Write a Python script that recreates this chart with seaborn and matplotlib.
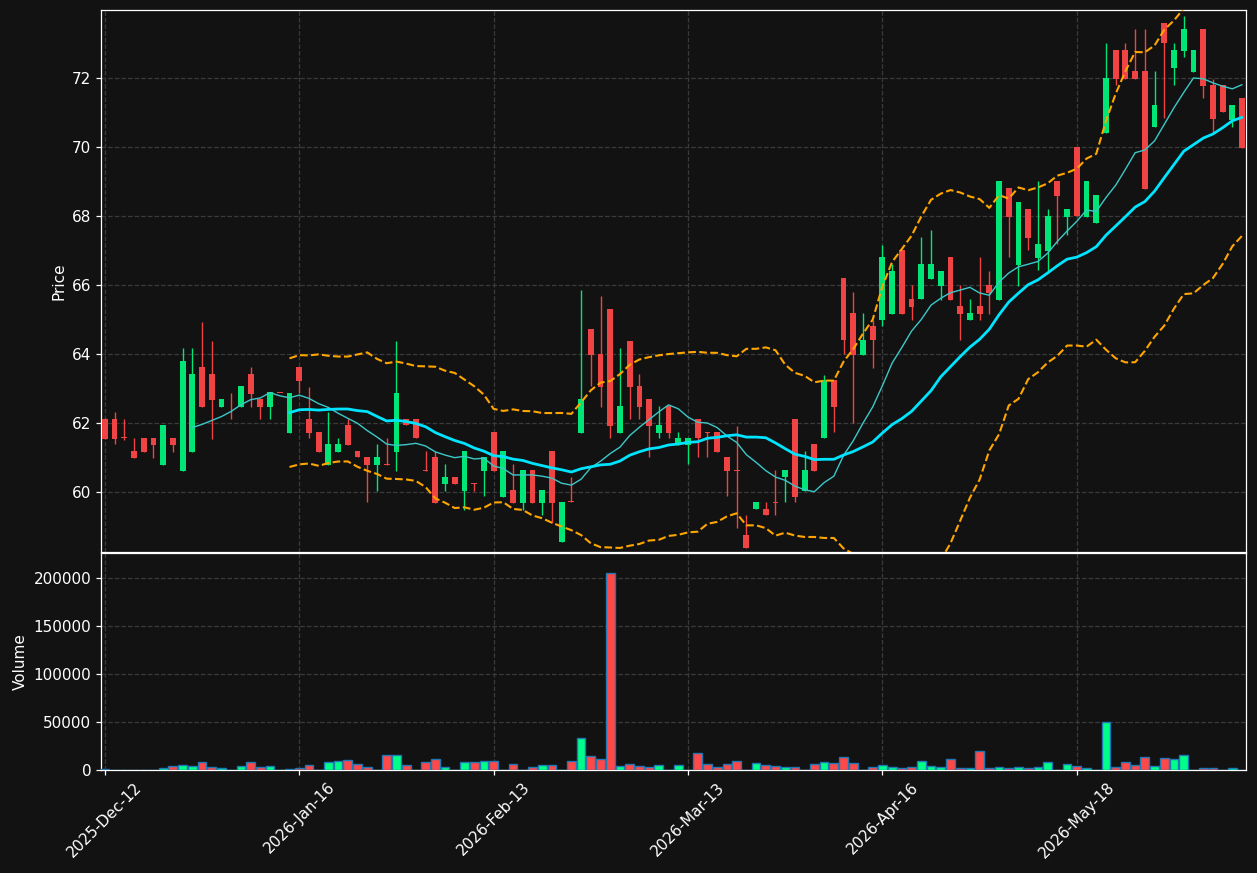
import matplotlib
matplotlib.use('Agg')
import matplotlib.pyplot as plt
import numpy as np
import pandas as pd
import seaborn as sns

# OHLC, one value per trading day
opens = [62.12, 62.12, 61.58, 61.19, 61.57, 61.57, 60.78, 61.57, 60.61, 61.16,
         63.62, 63.42, 62.46, 62.50, 62.46, 63.42, 62.70, 62.46, 62.88, 61.72,
         63.61, 62.11, 61.73, 60.79, 61.17, 61.94, 61.19, 61.01, 60.79, 60.81,
         61.17, 62.11, 62.11, 60.64, 61.01, 60.24, 60.44, 60.04, 60.25, 60.62,
         61.73, 59.86, 60.06, 59.69, 60.64, 59.69, 61.19, 58.56, 59.72, 61.72,
         64.72, 63.99, 65.30, 61.72, 64.38, 63.07, 62.70, 61.72, 62.49, 61.37,
         61.37, 62.11, 61.72, 61.73, 61.01, 60.63, 58.75, 59.50, 59.50, 59.71,
         60.42, 62.11, 60.04, 61.39, 61.55, 63.25, 66.20, 65.19, 63.98, 64.81,
         64.99, 65.17, 67.01, 65.59, 65.58, 66.18, 65.98, 66.81, 65.39, 64.99,
         65.39, 66.00, 65.57, 68.81, 66.58, 68.19, 66.79, 66.99, 69.01, 67.98,
         70.00, 67.98, 67.79, 70.40, 72.81, 72.81, 72.20, 72.20, 70.59, 73.59,
         72.30, 72.79, 72.18, 73.41, 71.80, 71.80, 70.78, 71.41]
highs = [62.15, 62.32, 62.12, 61.57, 61.57, 61.57, 61.94, 61.57, 64.17, 64.17,
         64.93, 64.38, 62.70, 62.87, 63.07, 63.62, 62.70, 62.90, 62.88, 62.86,
         63.61, 63.05, 61.73, 62.31, 61.55, 62.11, 61.19, 61.01, 61.39, 61.56,
         64.37, 62.11, 62.11, 61.18, 61.18, 60.80, 60.44, 61.19, 60.25, 61.00,
         61.73, 61.19, 60.80, 60.64, 60.64, 60.06, 61.19, 59.71, 60.44, 65.84,
         64.72, 65.68, 65.30, 64.16, 64.38, 63.42, 62.70, 62.49, 62.49, 61.73,
         61.57, 62.11, 61.73, 61.73, 61.01, 61.92, 59.32, 59.71, 59.70, 60.64,
         60.64, 62.11, 61.19, 61.39, 63.40, 63.25, 66.20, 65.79, 65.18, 64.99,
         67.17, 66.60, 67.01, 66.00, 67.38, 67.59, 66.40, 66.81, 66.00, 65.59,
         66.81, 66.41, 69.00, 68.81, 68.40, 68.19, 69.00, 68.19, 69.01, 68.19,
         70.00, 69.01, 68.61, 73.00, 72.81, 73.00, 73.41, 73.41, 72.20, 73.59,
         73.00, 73.80, 72.81, 73.41, 71.98, 71.80, 71.22, 71.41]
lows = [61.54, 61.39, 61.52, 60.99, 61.16, 60.99, 60.78, 61.16, 60.61, 61.16,
        62.46, 61.54, 62.46, 62.12, 62.46, 62.46, 62.12, 62.12, 62.86, 61.72,
        62.86, 61.55, 61.17, 60.79, 61.17, 61.37, 61.00, 59.70, 60.04, 60.79,
        60.62, 61.95, 61.55, 60.62, 59.69, 60.04, 60.24, 59.48, 60.04, 59.87,
        60.62, 59.86, 59.69, 59.48, 59.69, 59.32, 59.11, 58.56, 59.70, 61.72,
        63.07, 62.47, 61.56, 61.72, 62.11, 62.11, 61.00, 61.55, 61.55, 61.37,
        60.80, 61.00, 61.00, 61.17, 59.87, 58.95, 58.37, 59.50, 59.32, 59.32,
        59.70, 59.70, 60.04, 60.62, 61.55, 61.73, 64.00, 61.99, 63.98, 63.58,
        64.81, 65.17, 65.17, 64.99, 65.58, 66.18, 65.57, 65.57, 64.39, 64.99,
        64.99, 65.17, 65.57, 66.81, 65.98, 67.01, 66.43, 66.41, 67.18, 67.45,
        67.99, 67.98, 67.79, 70.40, 71.80, 71.98, 71.98, 68.79, 70.59, 70.83,
        71.80, 72.60, 72.18, 71.41, 70.44, 71.00, 70.59, 69.98]
closes = [61.54, 61.54, 61.55, 60.99, 61.16, 61.36, 61.94, 61.36, 63.80, 63.42,
          62.46, 62.67, 62.70, 62.48, 63.07, 62.84, 62.46, 62.90, 62.86, 62.86,
          63.23, 61.72, 61.17, 61.39, 61.39, 61.37, 61.00, 60.79, 61.01, 60.79,
          62.86, 61.95, 61.55, 60.62, 59.69, 60.44, 60.24, 61.19, 60.24, 61.00,
          60.62, 61.19, 59.69, 60.64, 59.69, 60.06, 59.69, 59.71, 59.70, 62.70,
          63.98, 63.05, 61.92, 62.49, 63.05, 62.47, 61.92, 61.94, 61.72, 61.57,
          61.57, 61.55, 61.70, 61.17, 60.62, 60.61, 58.37, 59.71, 59.32, 59.69,
          60.64, 59.86, 60.64, 60.62, 63.25, 62.47, 64.39, 63.98, 64.40, 64.39,
          66.81, 66.41, 65.17, 65.37, 66.61, 66.61, 66.40, 65.57, 65.17, 65.19,
          65.17, 65.76, 69.00, 67.98, 68.40, 67.37, 67.18, 67.99, 68.59, 68.19,
          67.99, 69.01, 68.61, 72.00, 71.98, 71.98, 71.98, 68.79, 71.22, 73.00,
          72.81, 73.41, 72.81, 71.78, 70.80, 71.00, 71.22, 69.98]
volumes = [1500, 200, 200, 200, 200, 200, 1700, 3800, 4900, 3800,
           8000, 2800, 1700, 300, 3800, 8000, 2800, 3800, 0, 700,
           1700, 4900, 500, 8000, 9000, 10000, 6000, 2800, 500, 15300,
           15300, 4900, 300, 8000, 11100, 2800, 500, 8000, 8000, 9000,
           9000, 500, 6000, 500, 2800, 4900, 4900, 500, 9000, 33000,
           14300, 11100, 204900, 3800, 6000, 3800, 2800, 4900, 500, 4900,
           500, 17400, 6000, 2800, 6000, 9000, 0, 7000, 4900, 3800,
           2800, 2800, 500, 6000, 8000, 7000, 13200, 7000, 500, 2800,
           4900, 2800, 1700, 2800, 9000, 3800, 2800, 11100, 1700, 1700,
           19400, 1700, 2800, 1700, 2800, 1700, 2800, 8000, 500, 6000,
           3800, 1700, 0, 49700, 2800, 8000, 4900, 13200, 3800, 12100,
           11100, 15300, 500, 1700, 1700, 0, 1700, 500]

tick_pos = [0, 20, 40, 60, 80, 100]
tick_labels = ['2025-Dec-12', '2026-Jan-16', '2026-Feb-13',
               '2026-Mar-13', '2026-Apr-16', '2026-May-18']

df = pd.DataFrame({'Open': opens, 'High': highs, 'Low': lows,
                   'Close': closes, 'Volume': volumes})
df['idx'] = np.arange(len(df))
df['MA10'] = df['Close'].rolling(10).mean()
df['MA20'] = df['Close'].rolling(20).mean()
sd = df['Close'].rolling(20).std(ddof=0)
df['Upper'] = df['MA20'] + 2 * sd
df['Lower'] = df['MA20'] - 2 * sd

bg = '#121212'
sns.set_theme(style='darkgrid', rc={
    'axes.facecolor': bg, 'figure.facecolor': bg,
    'axes.edgecolor': 'white', 'axes.linewidth': 0.9,
    'grid.color': '#3a3a3a', 'grid.linestyle': '--', 'grid.linewidth': 0.9,
    'text.color': 'white', 'axes.labelcolor': 'white',
    'xtick.color': 'white', 'ytick.color': 'white',
    'xtick.bottom': True, 'ytick.left': True,
    'xtick.major.size': 3.5, 'ytick.major.size': 3.5,
    'xtick.major.width': 0.9, 'ytick.major.width': 0.9,
    'xtick.labelsize': 11, 'ytick.labelsize': 11, 'axes.labelsize': 11,
})
plt.rcParams['font.family'] = ['DejaVu Sans']

up_c, dn_c = '#00e676', '#f04444'
vup_c, vdn_c = '#00ff88', '#ff4848'
up = df['Close'] >= df['Open']
colors = np.where(up, up_c, dn_c)
vcolors = np.where(up, vup_c, vdn_c)

fig = plt.figure(figsize=(12.57, 8.73), dpi=100)
ax1 = fig.add_axes([0.0803, 0.3677, 0.9109, 0.6209])
ax2 = fig.add_axes([0.0803, 0.118, 0.9109, 0.2486], sharex=ax1)

# candles
ax1.vlines(df['idx'], df['Low'], df['High'], colors=colors, linewidth=1, zorder=3)
body_lo = np.minimum(df['Open'], df['Close'])
body_h = np.maximum(np.abs(df['Close'] - df['Open']), 0.025)
ax1.bar(df['idx'], body_h, bottom=body_lo, width=0.6, color=colors, linewidth=0, zorder=4)

# moving average and bollinger bands
sns.lineplot(data=df, x='idx', y='MA10', ax=ax1, color='#3cc8c8', linewidth=1, zorder=5)
sns.lineplot(data=df, x='idx', y='MA20', ax=ax1, color='#00e5ff', linewidth=2, zorder=5)
sns.lineplot(data=df, x='idx', y='Upper', ax=ax1, color='orange', linewidth=1.5,
             linestyle='--', zorder=5)
sns.lineplot(data=df, x='idx', y='Lower', ax=ax1, color='orange', linewidth=1.5,
             linestyle='--', zorder=5)

ax1.set_ylim(58.26, 73.97)
ax1.set_yticks([60, 62, 64, 66, 68, 70, 72])
ax1.set_ylabel('Price')
ax1.set_xlabel('')
plt.setp(ax1.get_xticklabels(), visible=False)

# volume
ax2.bar(df['idx'], df['Volume'], width=0.9, color=vcolors,
        edgecolor='#1f77b4', linewidth=1, zorder=3)
ax2.set_ylim(0, 226000)
ax2.set_yticks([0, 50000, 100000, 150000, 200000])
ax2.ticklabel_format(axis='y', style='plain')
ax2.set_ylabel('Volume')
ax2.set_xlim(-0.4, 117.4)
ax2.set_xticks(tick_pos)
ax2.set_xticklabels(tick_labels, rotation=45)

for ax in (ax1, ax2):
    ax.grid(True, axis='both')
    for s in ax.spines.values():
        s.set_color('white')
        s.set_linewidth(0.9)
        s.set_visible(True)

fig.savefig('out.png', dpi=100, facecolor=bg)
